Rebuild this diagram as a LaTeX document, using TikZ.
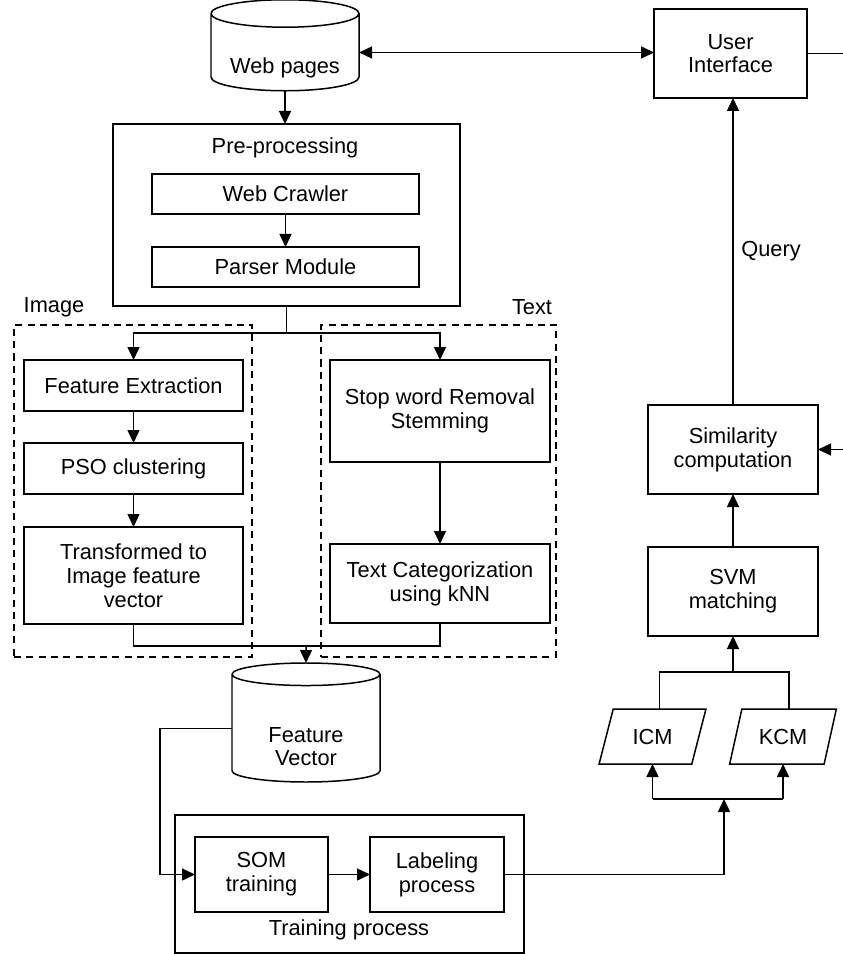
\documentclass[tikz,border=0pt]{standalone}
\usepackage{fontspec}
\setmainfont{Liberation Sans}
\usetikzlibrary{shapes.geometric,arrows.meta,calc}

\begin{document}
\begin{tikzpicture}[x=0.2mm, y=-0.2mm,
    every node/.style={font=\fontsize{12.4}{13.5}\selectfont, inner sep=0pt, outer sep=0pt},
    procbox/.style={rectangle, draw, line width=0.85pt, align=center},
    dbshape/.style={cylinder, shape border rotate=90, draw, line width=0.85pt},
    ioshape/.style={trapezium, trapezium left angle=65, trapezium right angle=115,
                 trapezium stretches=true, draw, line width=0.85pt},
    groupbox/.style={rectangle, draw, dash pattern=on 4pt off 3pt, line width=0.6pt},
    ln/.style={line width=0.85pt},
    arr/.style={-{Triangle[length=2.6mm,width=2.4mm]}, line width=0.85pt},
    dblarr/.style={{Triangle[length=2.6mm,width=2.4mm]}-{Triangle[length=2.6mm,width=2.4mm]}, line width=0.85pt}
]
\useasboundingbox (0,0) rectangle (843,954);

\node[dbshape, aspect=0.25, minimum width=29.6mm, minimum height=18.2mm] (web) at (285,52.5) {\phantom{Web pages}};
\node (webtext) at ($(web.center)+(0,15)$) {Web pages};
\node[procbox, minimum width=30.6mm, minimum height=17.8mm] (ui) at (730.5,53.5) {User\\Interface};

\node[procbox, minimum width=69.4mm, minimum height=36.4mm] (pre) at (286.5,215) {};
\node (pretitle) at (285,148) {Pre-processing};
\node[procbox, minimum width=53.4mm, minimum height=8mm] (crawl) at (285.5,194) {Web Crawler};
\node[procbox, minimum width=53.4mm, minimum height=8mm] (parse) at (285.5,267) {Parser Module};

\node[groupbox, minimum width=47.6mm, minimum height=66.4mm] (imggroup) at (133,491) {};
\node[groupbox, minimum width=47mm, minimum height=66.4mm] (txtgroup) at (438.5,491) {};
\node (imglabel) at (54,307) {Image};
\node (txtlabel) at (532,307) {Text};

\node[procbox, minimum width=43.8mm, minimum height=10.2mm] (fe) at (133.5,385.5) {Feature Extraction};
\node[procbox, minimum width=43.8mm, minimum height=10.2mm] (pso) at (133.5,468.5) {PSO clustering};
\node[procbox, minimum width=43.8mm, minimum height=19.4mm] (tr) at (133.5,575.5) {Transformed to\\Image feature\\vector};
\node[procbox, minimum width=44mm, minimum height=20.4mm] (stop) at (440,411) {Stop word Removal\\Stemming};
\node[procbox, minimum width=44mm, minimum height=15.8mm] (cat) at (440,583.5) {Text Categorization\\using kNN};

\node[dbshape, aspect=0.3, minimum width=29.6mm, minimum height=23.8mm] (fv) at (306,728.5) {\phantom{Feature}};
\node[align=center] (fvtext) at ($(fv.center)+(0,18)$) {Feature\\Vector};

\node[procbox, minimum width=69.8mm, minimum height=27.6mm] (train) at (349.5,884) {};
\node (traintitle) at (349,930) {Training process};
\node[procbox, minimum width=26.6mm, minimum height=15mm] (som) at (261.5,874.5) {SOM\\training};
\node[procbox, minimum width=26.8mm, minimum height=15mm] (lab) at (437,874.5) {Labeling\\process};

\node[ioshape, minimum width=21.4mm, minimum height=11mm] (icm) at (652.5,736.5) {ICM};
\node[ioshape, minimum width=21.4mm, minimum height=11mm] (kcm) at (783,736.5) {KCM};
\node[procbox, minimum width=34mm, minimum height=17.8mm] (svm) at (733,591.5) {SVM\\matching};
\node[procbox, minimum width=34mm, minimum height=17.8mm] (sim) at (733,449.5) {Similarity\\computation};
\node (query) at (771,251) {Query};

\coordinate (split) at ($(pre.south)+(0,27)$);
\coordinate (merge) at (306,646);
\coordinate (splitb) at (724,799);
\coordinate (joint) at ($(svm.south)+(0,36)$);
\coordinate (icmtop) at ($(icm.top left corner)!0.5!(icm.top right corner)$);
\coordinate (kcmtop) at ($(kcm.top left corner)!0.5!(kcm.top right corner)$);

\draw[dblarr] (web.east) -- (web.east -| ui.west);
\draw[arr] (web.south) -- (web.south |- pre.north);
\draw[arr] (crawl.south) -- (parse.north);
\draw[ln] (pre.south) -- (split);
\draw[arr] (split) -| (fe.north);
\draw[arr] (split) -| (stop.north);
\draw[arr] (fe.south) -- (pso.north);
\draw[arr] (pso.south) -- (tr.north);
\draw[arr] (stop.south) -- (cat.north);
\draw[ln] (tr.south) |- (merge);
\draw[ln] (cat.south) |- (merge);
\draw[arr] (merge) -- (fv.north);
\draw[arr] (fv.west) -- ++(-72,0) |- (som.west);
\draw[arr] (som.east) -- (lab.west);
\draw[arr] (lab.east) -| (splitb);
\draw[ln] (icm.south |- splitb) -- (kcm.south |- splitb);
\draw[arr] (icm.south |- splitb) -- (icm.south);
\draw[arr] (kcm.south |- splitb) -- (kcm.south);
\draw[ln] (icmtop) |- (joint) -| (kcmtop);
\draw[arr] (joint) -- (svm.south);
\draw[arr] (svm.north) -- (sim.south);
\draw[arr] (sim.north) -- (sim.north |- ui.south);
\draw[arr] (ui.east) -- ++(60,0) |- (sim.east);
\end{tikzpicture}
\end{document}
